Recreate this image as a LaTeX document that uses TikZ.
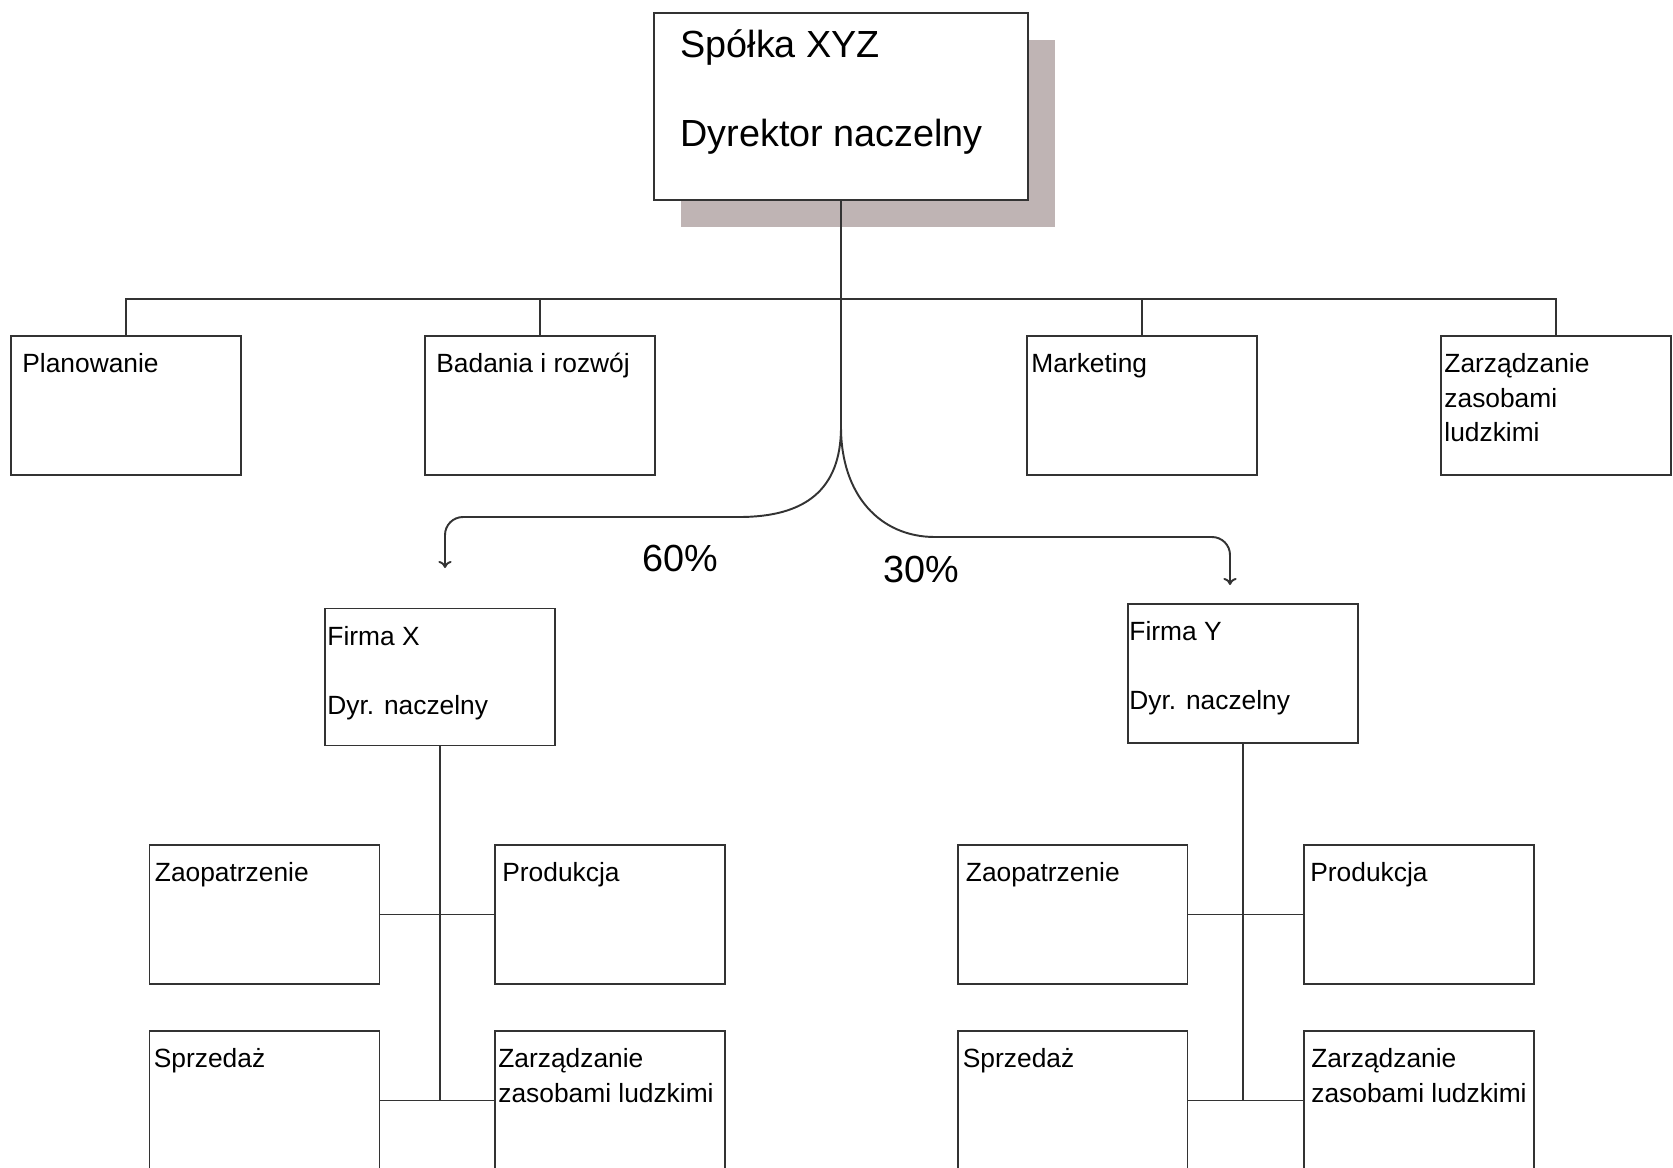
\documentclass[tikz,border=0pt]{standalone}
\usepackage{fontspec}
\setmainfont{Liberation Sans}
\usetikzlibrary{positioning,shadows,arrows.meta}
\definecolor{shadowgray}{RGB}{191,180,180}
\tikzset{
  unit/.style={draw=black!80, line width=1.1pt, fill=white, minimum width=4.6cm, minimum height=2.78cm, inner sep=0pt},
  lbl/.style={anchor=north west, align=left, inner xsep=0.12cm, inner ysep=0.36cm, font=\fontsize{15}{19.7}\selectfont},
  conn/.style={draw=black!80, line width=1.1pt},
  pct/.style={font=\fontsize{21.5}{25}\selectfont}
}
\begin{document}
\begin{tikzpicture}[x=0.02cm,y=-0.02cm,>={To[length=4pt,width=7.5pt]}]
\useasboundingbox (0,0) rectangle (1673,1167);
\clip (0,0) rectangle (1673,1167);
% spolka
\node[unit, minimum width=7.48cm, minimum height=3.74cm,
  drop shadow={shadow xshift=0.54cm, shadow yshift=-0.54cm, fill=shadowgray, opacity=1},
  label={[lbl, inner xsep=0.54cm, inner ysep=0.34cm, font=\fontsize{21.5}{25.3}\selectfont]north west:{Spółka XYZ\\[25.3pt]Dyrektor naczelny}}] (ceo) at (841,106.5) {};
% dzialy
\node[unit, label={[lbl, inner xsep=0.24cm]north west:Planowanie}] (plan) at (126,405.5) {};
\node[unit, label={[lbl, inner xsep=0.24cm]north west:Badania i rozwój}] (rd) at (540,405.5) {};
\node[unit, label={[lbl, inner xsep=0.1cm]north west:Marketing}] (mkt) at (1142,405.5) {};
\node[unit, label={[lbl, inner xsep=0.08cm]north west:{Zarządzanie\\zasobami\\ludzkimi}}] (hr) at (1556,405.5) {};
% firmy
\node[unit, minimum height=2.74cm, label={[lbl, inner xsep=0.06cm]north west:{Firma X\\[19.7pt]Dyr. naczelny}}] (fx) at (440,677) {};
\node[unit, minimum height=2.78cm, label={[lbl, inner xsep=0.04cm]north west:{Firma Y\\[19.7pt]Dyr. naczelny}}] (fy) at (1243,673.5) {};
% firma x
\node[unit, label={[lbl]north west:Zaopatrzenie}] (zx) at (264.5,914.5) {};
\node[unit, right of=zx, node distance=6.91cm, label={[lbl, inner xsep=0.16cm]north west:Produkcja}] (px) {};
\node[unit, below of=zx, node distance=3.72cm, label={[lbl, inner xsep=0.1cm]north west:Sprzedaż}] (sx) {};
\node[unit, below of=px, node distance=3.72cm, label={[lbl, inner xsep=0.08cm]north west:{Zarządzanie\\zasobami ludzkimi}}] (hx) {};
% firma y
\node[unit, label={[lbl, inner xsep=0.18cm]north west:Zaopatrzenie}] (zy) at (1072.5,914.5) {};
\node[unit, right of=zy, node distance=6.93cm, label={[lbl, inner xsep=0.14cm]north west:Produkcja}] (py) {};
\node[unit, below of=zy, node distance=3.72cm, label={[lbl]north west:Sprzedaż}] (sy) {};
\node[unit, below of=py, node distance=3.72cm, label={[lbl, inner xsep=0.16cm]north west:{Zarządzanie\\zasobami ludzkimi}}] (hy) {};
\node[pct] (p60) at (680,558) {60\%};
\node[pct] (p30) at (921,569) {30\%};
\coordinate (split) at (841,427);
\coordinate (bus) at (841,299);
\coordinate (xa) at (445,568);
\coordinate (ya) at (1230,585);
\draw[conn] (ceo.south) -- (split);
\draw[conn] (plan.north) |- (bus) -| (hr.north);
\draw[conn] (rd.north) -- (rd.north |- bus);
\draw[conn] (mkt.north) -- (mkt.north |- bus);
\draw[conn,->] (split) .. controls (841,490) and (805,517) .. (739,517) -- (463,517) to[out=180,in=90] (445,535) -- (xa);
\draw[conn,->] (split) .. controls (841,495) and (880,537) .. (935,537) -- (1212,537) to[out=0,in=90] (1230,555) -- (ya);
\draw[conn] (fx.south) -- (fx.south |- hx.west);
\draw[conn] (zx.east) -- (px.west);
\draw[conn] (sx.east) -- (hx.west);
\draw[conn] (fy.south) -- (fy.south |- hy.west);
\draw[conn] (zy.east) -- (py.west);
\draw[conn] (sy.east) -- (hy.west);
\end{tikzpicture}
\end{document}
